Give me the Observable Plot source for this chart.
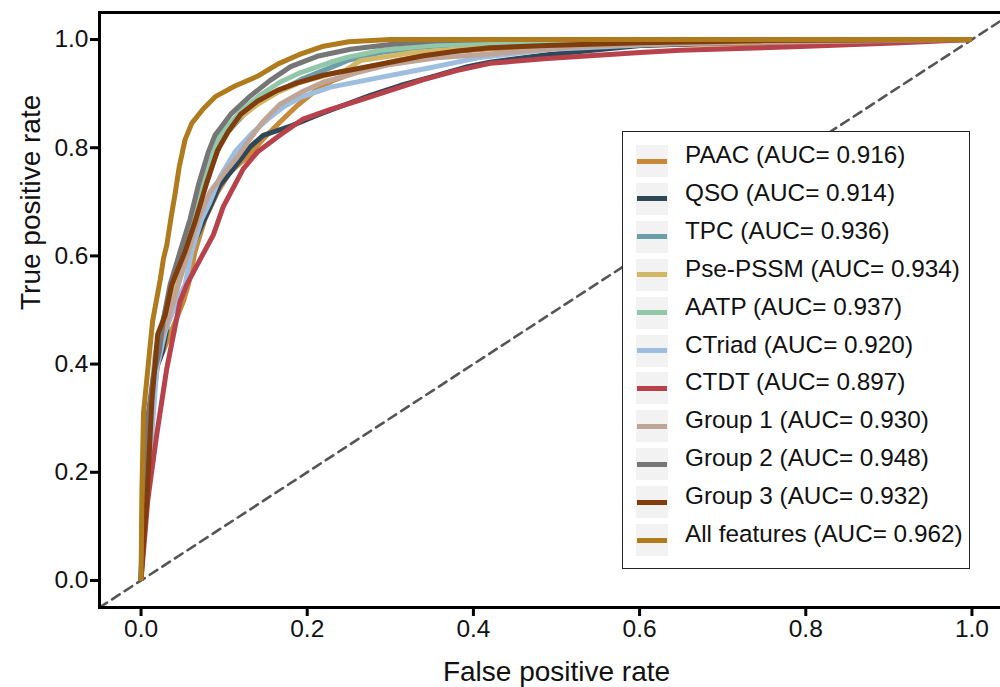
<!DOCTYPE html>
<html>
<head>
<meta charset="utf-8">
<script src="https://cdn.jsdelivr.net/npm/d3@7"></script>
<script src="https://cdn.jsdelivr.net/npm/@observablehq/plot@0.6"></script>
<style>
  html, body { margin: 0; padding: 0; background: #fff; overflow: hidden; }
  #wrap { position: relative; width: 1000px; height: 687px; overflow: hidden; font-family: "Liberation Sans", Arial, sans-serif; }
  #legend { position: absolute; left: 622px; top: 131px; width: 346px; height: 436px; border: 1.5px solid #222; background: #fff; }
  .row { position: absolute; left: 0; height: 32px; width: 340px; }
  .key { position: absolute; left: 13px; top: 0; width: 32px; height: 32px; background: #f2f2f2; }
  .seg { position: absolute; left: 1px; right: 1px; top: 13.5px; height: 5px; }
  .lab { position: absolute; left: 62px; top: -6px; line-height: 32px; font-size: 24.3px; color: #111; white-space: nowrap; }
</style>
</head>
<body>
<div id="wrap"></div>
<script>
// ---- data ----
const seriesNames = ["PAAC", "QSO", "TPC", "Pse-PSSM", "AATP", "CTriad", "CTDT", "Group 1", "Group 2", "Group 3", "All features"];
const aucValues = ["0.916", "0.914", "0.936", "0.934", "0.937", "0.920", "0.897", "0.930", "0.948", "0.932", "0.962"];
const seriesColors = ["#C7893A", "#2F4858", "#6B9EA9", "#D2B866", "#90C8A9", "#9DBEDF", "#B8424B", "#BFA597", "#767676", "#803C0C", "#B07B1D"];
const xTicks = [0, 0.2, 0.4, 0.6, 0.8, 1.0];
const yTicks = [0, 0.2, 0.4, 0.6, 0.8, 1.0];
const xDomain = [-0.05, 1.05];
const yDomain = [-0.05, 1.05];

// ROC points [fpr, tpr]
const PAAC = [[0,0],[0.004,0.15],[0.012,0.30],[0.02,0.40],[0.035,0.455],[0.051,0.516],[0.057,0.547],[0.065,0.608],[0.077,0.668],[0.092,0.718],[0.107,0.755],[0.128,0.783],[0.147,0.816],[0.167,0.847],[0.188,0.878],[0.212,0.908],[0.231,0.924],[0.267,0.945],[0.308,0.961],[0.36,0.976],[0.42,0.983],[0.529,0.987],[0.649,0.991],[0.794,0.994],[1,1]];
const QSO = [[0,0],[0.003,0.15],[0.01,0.30],[0.018,0.39],[0.026,0.424],[0.041,0.547],[0.059,0.608],[0.075,0.663],[0.095,0.731],[0.111,0.761],[0.131,0.801],[0.147,0.823],[0.18,0.84],[0.212,0.86],[0.243,0.878],[0.276,0.897],[0.312,0.915],[0.352,0.932],[0.393,0.95],[0.42,0.958],[0.489,0.972],[0.601,0.989],[0.698,0.994],[0.854,0.998],[1,1]];
const TPC = [[0,0],[0.003,0.15],[0.01,0.30],[0.018,0.42],[0.028,0.484],[0.04,0.547],[0.052,0.608],[0.064,0.668],[0.075,0.718],[0.087,0.773],[0.099,0.82],[0.123,0.86],[0.147,0.89],[0.171,0.908],[0.195,0.928],[0.228,0.948],[0.248,0.961],[0.288,0.976],[0.348,0.987],[0.408,0.993],[0.529,0.998],[1,1]];
const PsePSSM = [[0,0],[0.003,0.15],[0.01,0.30],[0.018,0.42],[0.029,0.484],[0.039,0.547],[0.051,0.608],[0.063,0.668],[0.075,0.731],[0.087,0.783],[0.101,0.823],[0.119,0.856],[0.14,0.88],[0.164,0.902],[0.192,0.921],[0.228,0.936],[0.246,0.943],[0.264,0.961],[0.328,0.976],[0.408,0.985],[0.489,0.991],[0.613,0.996],[0.746,1.0],[1,1]];
const AATP = [[0,0],[0.003,0.15],[0.01,0.30],[0.017,0.42],[0.027,0.484],[0.037,0.547],[0.049,0.608],[0.061,0.668],[0.071,0.718],[0.083,0.773],[0.095,0.823],[0.119,0.866],[0.143,0.897],[0.167,0.921],[0.192,0.939],[0.228,0.958],[0.248,0.967],[0.288,0.98],[0.348,0.989],[0.408,0.993],[0.505,0.998],[1,1]];
const CTriad = [[0,0],[0.004,0.15],[0.013,0.271],[0.019,0.392],[0.029,0.46],[0.043,0.516],[0.053,0.547],[0.061,0.608],[0.073,0.668],[0.083,0.70],[0.095,0.746],[0.113,0.792],[0.135,0.829],[0.155,0.856],[0.171,0.875],[0.192,0.893],[0.228,0.912],[0.288,0.93],[0.348,0.948],[0.408,0.967],[0.493,0.982],[0.613,0.991],[0.734,0.996],[1,1]];
const CTDT = [[0,0],[0.008,0.147],[0.019,0.271],[0.031,0.392],[0.047,0.516],[0.055,0.547],[0.071,0.593],[0.087,0.639],[0.099,0.691],[0.123,0.761],[0.14,0.792],[0.167,0.823],[0.195,0.853],[0.228,0.871],[0.26,0.886],[0.30,0.906],[0.34,0.926],[0.381,0.943],[0.42,0.956],[0.489,0.965],[0.601,0.976],[0.649,0.98],[0.794,0.987],[0.914,0.994],[1,1]];
const Group1 = [[0,0],[0.003,0.15],[0.01,0.30],[0.018,0.42],[0.033,0.484],[0.045,0.547],[0.057,0.608],[0.069,0.668],[0.083,0.718],[0.101,0.755],[0.116,0.783],[0.131,0.816],[0.146,0.847],[0.167,0.88],[0.192,0.902],[0.219,0.921],[0.26,0.939],[0.30,0.954],[0.36,0.967],[0.408,0.972],[0.529,0.987],[0.649,0.993],[0.794,0.996],[1,1]];
const Group2 = [[0,0],[0.002,0.15],[0.008,0.30],[0.015,0.38],[0.022,0.424],[0.027,0.484],[0.035,0.547],[0.047,0.608],[0.059,0.668],[0.069,0.731],[0.081,0.792],[0.089,0.823],[0.108,0.862],[0.131,0.895],[0.155,0.924],[0.18,0.95],[0.212,0.969],[0.252,0.982],[0.30,0.991],[0.36,0.998],[0.42,1.0],[1,1]];
const Group3 = [[0,0],[0.002,0.05],[0.007,0.147],[0.013,0.331],[0.02,0.455],[0.029,0.49],[0.037,0.547],[0.053,0.608],[0.066,0.668],[0.079,0.735],[0.092,0.795],[0.105,0.83],[0.12,0.862],[0.14,0.886],[0.164,0.906],[0.188,0.92],[0.219,0.934],[0.26,0.946],[0.30,0.958],[0.34,0.97],[0.381,0.979],[0.42,0.985],[0.489,0.989],[0.601,0.994],[0.746,0.998],[1,1]];
const AllFeatures = [[0,0],[0.001,0.16],[0.003,0.31],[0.011,0.435],[0.014,0.48],[0.023,0.555],[0.027,0.595],[0.031,0.62],[0.036,0.67],[0.041,0.715],[0.046,0.765],[0.053,0.815],[0.061,0.845],[0.075,0.872],[0.09,0.895],[0.113,0.914],[0.14,0.932],[0.165,0.955],[0.19,0.972],[0.218,0.987],[0.25,0.996],[0.30,1.0],[1,1]];

const seriesPoints = [PAAC, QSO, TPC, PsePSSM, AATP, CTriad, CTDT, Group1, Group2, Group3, AllFeatures];

// ---- table ----
const rows = [];
seriesPoints.forEach((pts, i) => pts.forEach(([f, t]) => rows.push({name: seriesNames[i], fpr: f, tpr: t})));
const diag = [xDomain[0], xDomain[1]].map(v => ({v}));

const FONT = "Liberation Sans, Arial, sans-serif";

const chart = Plot.plot({
  width: 1000,
  height: 687,
  marginLeft: 99,
  marginRight: -13,
  marginTop: 12,
  marginBottom: 80,
  style: {fontFamily: FONT, background: "white", color: "#111"},
  x: {domain: xDomain, ticks: xTicks, tickFormat: d3.format(".1f"), label: null},
  y: {domain: yDomain, ticks: yTicks, tickFormat: d3.format(".1f"), label: null},
  color: {domain: seriesNames, range: seriesColors},
  marks: [
    Plot.line(diag, {x: "v", y: "v", stroke: "#555", strokeWidth: 2.6, strokeDasharray: "9,6", clip: true}),
    Plot.line(rows, {x: "fpr", y: "tpr", z: "name", stroke: "name", strokeWidth: 5, strokeLinejoin: "round", strokeLinecap: "butt", clip: true}),
    Plot.frame({stroke: "#000", strokeWidth: 3}),
    Plot.axisX({ticks: xTicks, tickFormat: d3.format(".1f"), tickSize: 9, tickPadding: 3, fontSize: 24.5, strokeWidth: 3, stroke: "#000", fill: "#111", label: null}),
    Plot.axisY({ticks: yTicks, tickFormat: d3.format(".1f"), tickSize: 9, tickPadding: 2, fontSize: 24.5, strokeWidth: 3, stroke: "#000", fill: "#111", label: null}),
    Plot.text(["False positive rate"], {frameAnchor: "bottom", dy: 65, fontSize: 28, fill: "#111", lineAnchor: "middle"}),
    Plot.text(["True positive rate"], {frameAnchor: "left", dx: -68, rotate: -90, fontSize: 28, fill: "#111", lineAnchor: "middle"})
  ]
});

const wrap = document.getElementById("wrap");
wrap.appendChild(chart);

// legend
const legend = document.createElement("div");
legend.id = "legend";
seriesNames.forEach((n, i) => {
  const row = document.createElement("div");
  row.className = "row";
  row.style.top = (13 + 37.9 * i) + "px";
  const key = document.createElement("div");
  key.className = "key";
  const seg = document.createElement("div");
  seg.className = "seg";
  seg.style.background = seriesColors[i];
  key.appendChild(seg);
  const lab = document.createElement("div");
  lab.className = "lab";
  lab.textContent = `${n} (AUC= ${aucValues[i]})`;
  row.appendChild(key);
  row.appendChild(lab);
  legend.appendChild(row);
});
wrap.appendChild(legend);
</script>
</body>
</html>
